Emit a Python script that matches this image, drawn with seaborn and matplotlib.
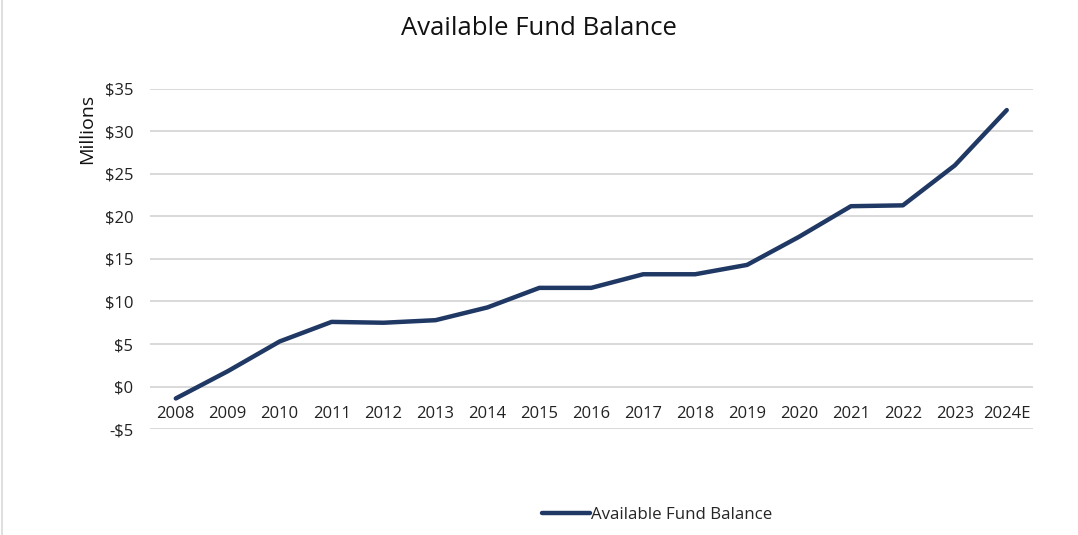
import matplotlib.pyplot as plt
import matplotlib.lines as mlines
import seaborn as sns
import pandas as pd

years = ["2008", "2009", "2010", "2011", "2012", "2013", "2014", "2015", "2016",
         "2017", "2018", "2019", "2020", "2021", "2022", "2023", "2024E"]
balance = [-1.4, 1.8, 5.3, 7.6, 7.5, 7.8, 9.3, 11.6, 11.6,
           13.2, 13.2, 14.3, 17.6, 21.2, 21.3, 26.0, 32.5]
y_ticks = [-5, 0, 5, 10, 15, 20, 25, 30, 35]

df = pd.DataFrame({"Year": years, "Available Fund Balance": balance})

sns.set_style("white")
plt.rcParams["font.family"] = ["Open Sans", "DejaVu Sans"]

fig = plt.figure(figsize=(10.78, 5.35), dpi=100)
ax = fig.add_axes([0.139, 0.198, 0.819, 0.636])

sns.lineplot(data=df, x="Year", y="Available Fund Balance", ax=ax, sort=False,
             color="#203864", linewidth=3.2, solid_capstyle="round",
             label="Available Fund Balance")

ax.set_ylim(-5, 35)
ax.set_xlim(-0.5, len(years) - 0.5)
ax.set_yticks(y_ticks)
ax.set_yticklabels([f"-${-v}" if v < 0 else f"${v}" for v in y_ticks])
ax.yaxis.grid(True, color="#D9D9D9", linewidth=1.4)
ax.set_axisbelow(True)

for s in ["top", "right", "left"]:
    ax.spines[s].set_visible(False)
ax.spines["bottom"].set_position(("data", 0))
ax.spines["bottom"].set_visible(False)
ax.tick_params(axis="x", length=0, pad=14, labelsize=12, colors="#222222")
ax.tick_params(axis="y", length=0, pad=12, labelsize=12, colors="#222222")
ax.set_xlabel("")
ax.set_ylabel("")

fig.text(0.081, 0.825, "Millions", rotation=90, ha="center", va="top",
         fontsize=14, color="#111111")
fig.suptitle("Available Fund Balance", y=0.97, fontsize=18.5, color="#111111")

ax.legend(loc="upper center", bbox_to_anchor=(0.575, -0.185), frameon=False,
          fontsize=12.2, handlelength=2.8, handletextpad=0.1)

fig.add_artist(mlines.Line2D([0.002, 0.002], [0, 1], color="#D9D9D9", linewidth=1.2))

fig.savefig("out.png", dpi=100)
